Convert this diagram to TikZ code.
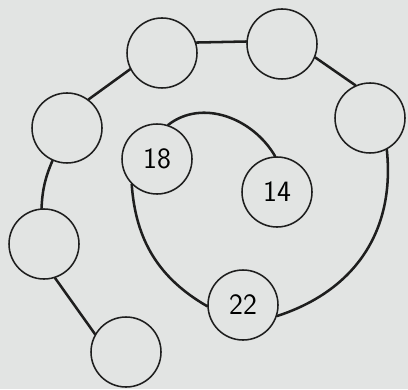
\documentclass[tikz,border=0pt]{standalone}
\usepackage{xcolor}
\usepackage{tikz}
\usetikzlibrary{positioning,calc}
\definecolor{paper}{HTML}{E2E4E3}
\definecolor{pencil}{HTML}{1E1E1E}

\begin{document}
\begin{tikzpicture}[
  slot/.style={circle, draw=pencil, line width=1.1pt, fill=paper, minimum size=1.75cm, inner sep=0pt, font=\sffamily\fontsize{21}{24}\selectfont},
  link/.style={draw=pencil, line width=1.8pt, line cap=round}
]
  \fill[paper] (0,0) rectangle (10.2,9.725);
  \useasboundingbox (0,0) rectangle (10.2,9.725);

  \node[slot] (bot) at (3.15,0.925) {};
  \node[slot] (low) at (1.10,3.625) {};
  \node[slot] (left) at (1.675,6.525) {};
  \node[slot] (topl) at (4.05,8.40) {};
  \node[slot] (topr) at (7.05,8.625) {};
  \node[slot] (right) at (9.25,6.775) {};
  \node[slot] (n22) at (6.075,2.10) {22};
  \node[slot] (n18) at (3.925,5.75) {18};
  \node[slot] (n14) at (6.925,4.925) {14};

  \draw[link] (bot.150) -- (low.-72);
  \draw[link] (low.94) to[bend left=10] (left.-114);
  \draw[link] (left.53) -- (topl.207);
  \draw[link] (topl.17) -- (topr.176);
  \draw[link] (topr.-22) -- (right.114);
  \draw[link] (right.-62) to[out=-84, in=18, looseness=1.05] (n22.-18);
  \draw[link] (n22.182) to[out=150, in=-86] (n18.-135);
  \draw[link] (n18.72) to[out=38, in=120] (n14.93);
\end{tikzpicture}
\end{document}
